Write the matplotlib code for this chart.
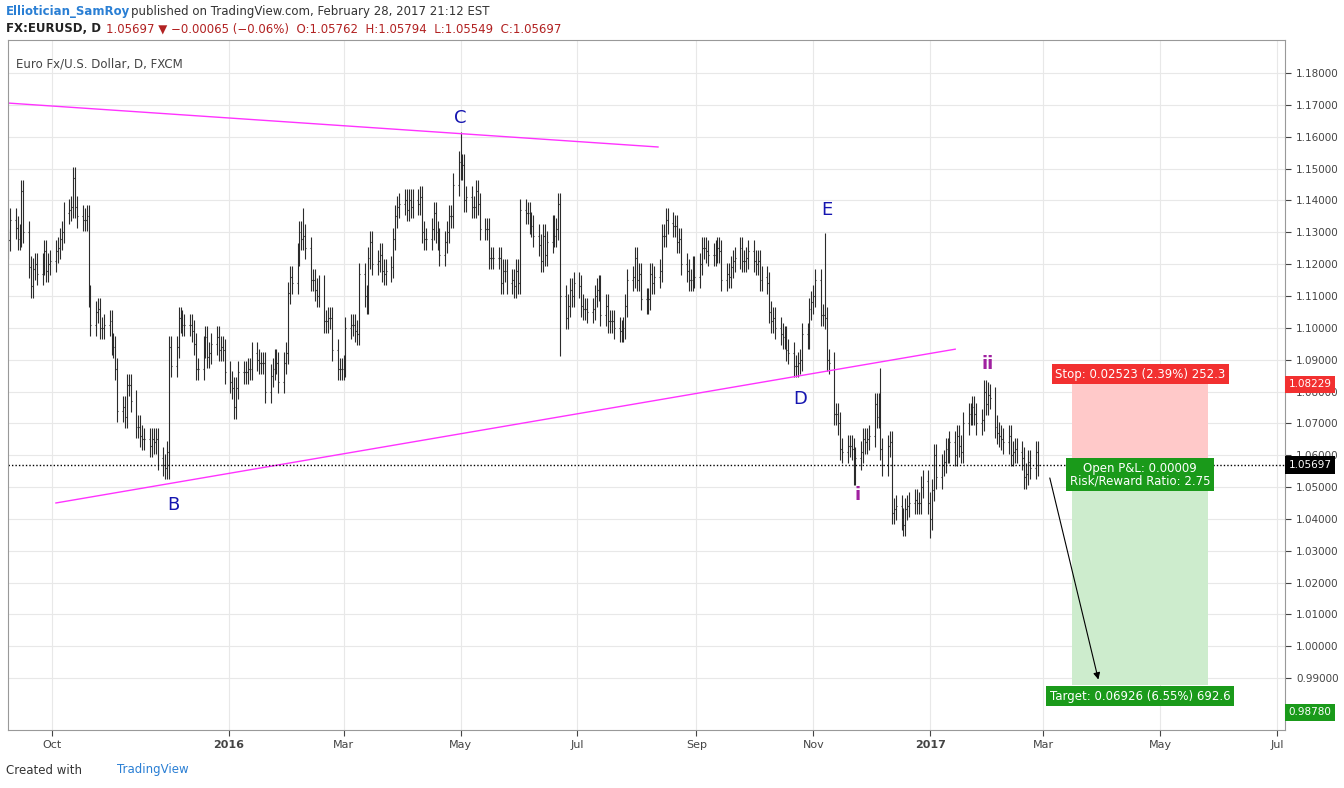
import numpy as np
import pandas as pd
import matplotlib
matplotlib.use("Agg")
import matplotlib.pyplot as plt
import matplotlib.dates as mdates

# daily closes, pips above 1.0000, one row per week starting Mon 2015-09-07
weeks = [
    [1200,1210,1250,1275,1340],[1315,1280,1290,1430,1300],[1190,1130,1185,1200,1170],
    [1200,1240,1180,1200,1210],[1240,1250,1280,1300,1360],[1370,1380,1470,1380,1350],
    [1340,1340,1350,1100,1010],[1050,1060,1000,1000,1010],[1020,950,940,870,740],
    [750,720,820,820,770],[690,690,660,650,650],[630,650,640,650,590],
    [570,560,610,940,880],[940,1030,1020,1010,1010],[1010,990,950,870,870],
    [940,970,910,920,950],[970,930,940,930,860],[830,810,750,810,860],
    [860,860,870,870,920],[900,890,890,890,800],[850,870,900,890,830],
    [890,920,1110,1160,1140],[1230,1300,1280,1290,1250],[1150,1150,1120,1100,1130],
    [1020,1020,1030,1030,930],[870,870,870,880,1000],[1010,1010,990,980,1170],
    [1100,1080,1220,1270,1200],[1210,1230,1180,1170,1180],[1190,1280,1350,1380,1390],
    [1400,1370,1400,1380,1400],[1390,1410,1300,1280,1280],[1310,1360,1300,1280,1230],
    [1270,1300,1350,1350,1450],[1520,1500,1510,1400,1410],[1380,1380,1430,1390,1310],
    [1310,1310,1220,1220,1220],[1220,1140,1180,1180,1140],[1150,1130,1180,1140,1370],
    [1360,1360,1330,1320,1290],[1260,1210,1290,1230,1270],[1320,1290,1310,1390,1100],
    [1030,1070,1120,1100,1140],[1130,1070,1060,1060,1050],[1060,1100,1120,1130,1040],
    [1070,1020,1020,1020,1000],[990,990,1000,1070,1150],[1160,1220,1150,1170,1090],
    [1080,1090,1170,1140,1160],[1180,1290,1290,1340,1330],[1320,1320,1270,1280,1200],
    [1180,1150,1150,1190,1160],[1200,1250,1250,1240,1230],[1230,1240,1250,1240,1150],
    [1170,1160,1190,1210,1220],[1250,1210,1210,1220,1240],[1210,1200,1210,1150,1160],
    [1140,1050,1020,1030,1000],[980,970,970,930,920],[880,880,890,900,980],
    [970,1060,1080,1100,1150],[1040,1040,1030,900,890],[730,730,700,620,610],
    [630,630,620,540,590],[610,650,640,650,660],[760,720,760,620,570],
    [630,640,420,430,440],[400,380,430,440,450],[460,450,450,500,520],
    [450,400,490,600,530],[570,580,620,610,640],[600,660,630,610,700],
    [730,730,750,730,700],[710,800,760,790,780],[690,670,660,650,640],
    [660,600,610,620,610],[590,530,540,580,560],[610,570],
]
# notable extremes
extreme_highs = {"2016-05-03": 1.1616, "2016-11-09": 1.1299, "2016-02-11": 1.1376,
                 "2016-12-08": 1.0874, "2017-02-02": 1.0829}
extreme_lows = {"2015-12-03": 1.0524, "2017-01-03": 1.0340, "2016-06-24": 1.0912}
last_close = 1.05697
stop_price = 1.08229
target_price = 0.98780
wick = 0.0035

closes = np.array([1 + v / 10000 for w in weeks for v in w])
dates = pd.bdate_range("2015-09-07", periods=len(closes))
opens = np.r_[closes[0] - 0.002, closes[:-1]]
highs = np.maximum(opens, closes) + wick
lows = np.minimum(opens, closes) - wick
for d, v in extreme_highs.items():
    highs[dates.get_loc(pd.Timestamp(d))] = v
for d, v in extreme_lows.items():
    lows[dates.get_loc(pd.Timestamp(d))] = v
closes[-1] = last_close

fig = plt.figure(figsize=(13.44, 7.88), dpi=100)
W, H = 1344, 788
ax = fig.add_axes([8 / W, (H - 730) / H, (1285 - 8) / W, (730 - 40) / H])

x = mdates.date2num(dates) - 2
bar_col = "#2b2b2b"
ax.vlines(x, lows, highs, color=bar_col, lw=0.8)
ax.hlines(opens, x - 0.45, x, color=bar_col, lw=0.8)
ax.hlines(closes, x, x + 0.45, color=bar_col, lw=0.8)

D = lambda s: mdates.date2num(pd.Timestamp(s))
ax.set_xlim(D("2015-09-08"), D("2017-07-05"))
ax.set_ylim(0.9737, 1.1904)

# trendlines
mag = "#ff33ff"
ax.plot([D("2015-09-08"), D("2016-08-12")], [1.1706, 1.1568], color=mag, lw=1)
ax.plot([D("2015-10-03"), D("2017-01-14")], [1.0450, 1.0933], color=mag, lw=1)

# wave labels
for s, d, p, c in [("C", "2016-05-01", 1.1660, "#1515b0"), ("B", "2015-12-03", 1.0445, "#1515b0"),
                   ("E", "2016-11-08", 1.1370, "#1515b0"), ("D", "2016-10-25", 1.0775, "#1515b0"),
                   ("i", "2016-11-24", 1.0475, "#a020a0"), ("ii", "2017-01-31", 1.0885, "#a020a0")]:
    ax.text(D(d), p, s, color=c, fontsize=13, ha="center", va="center",
            fontweight="bold" if c == "#a020a0" else "normal")

# current price line
ax.axhline(last_close, color="black", lw=1, ls=(0, (1, 1.5)))

# long/short position tool
x0, x1 = D("2017-03-16"), D("2017-05-26")
ax.fill_between([x0, x1], last_close, stop_price, color="#ffc9c9", lw=0)
ax.fill_between([x0, x1], target_price, last_close, color="#cdeccd", lw=0)
ax.annotate("", xy=(D("2017-03-30"), 0.9887), xytext=(D("2017-03-04"), 1.0537),
            arrowprops=dict(arrowstyle="-|>", color="black", lw=0.8))
xm = (x0 + x1) / 2
ax.text(xm, 1.0855, "Stop: 0.02523 (2.39%) 252.3", color="white", fontsize=8.5, ha="center",
        va="center", bbox=dict(boxstyle="square,pad=0.3", fc="#f23030", ec="none"))
ax.text(xm, 1.0540, "Open P&L: 0.00009\nRisk/Reward Ratio: 2.75", color="white", fontsize=8.5,
        ha="center", va="center", linespacing=0.95,
        bbox=dict(boxstyle="square,pad=0.3", fc="#1a9a1a", ec="none"))
ax.text(xm, 0.9843, "Target: 0.06926 (6.55%) 692.6", color="white", fontsize=8.5, ha="center",
        va="center", bbox=dict(boxstyle="square,pad=0.3", fc="#1a9a1a", ec="none"))

# axes styling
ax.yaxis.tick_right()
ax.set_yticks(np.arange(0.99, 1.1801, 0.01))
ax.yaxis.set_major_formatter(matplotlib.ticker.FormatStrFormatter("%.5f"))
ax.tick_params(axis="y", labelsize=7.5, colors="#444", length=4, pad=4)
ticks = ["2015-10-01", "2016-01-01", "2016-03-01", "2016-05-01", "2016-07-01", "2016-09-01",
         "2016-11-01", "2017-01-01", "2017-03-01", "2017-05-01", "2017-07-01"]
tlabels = ["Oct", "2016", "Mar", "May", "Jul", "Sep", "Nov", "2017", "Mar", "May", "Jul"]
ax.set_xticks([D(t) for t in ticks])
ax.set_xticklabels(tlabels)
ax.tick_params(axis="x", labelsize=8, colors="#444", length=4)
for lab in ax.get_xticklabels():
    if lab.get_text() in ("2016", "2017"):
        lab.set_fontweight("bold")
ax.grid(color="#e8e8e8", lw=0.8)
ax.set_axisbelow(True)
for sp in ax.spines.values():
    sp.set_color("#999")

# price badges on right axis (target badge sits just below its level, as in TradingView)
for p, yp, fc, tc in [(stop_price, stop_price, "#f23030", "white"),
                      (1.05706, 1.05706, "white", "#444"),
                      (last_close, last_close, "black", "white"),
                      (target_price, 0.9793, "#1a9a1a", "white")]:
    ax.text(1.003, yp, f"{p:.5f}", transform=ax.get_yaxis_transform(), fontsize=7.5, color=tc,
            va="center", ha="left", zorder=10, clip_on=False,
            bbox=dict(boxstyle="square,pad=0.35", fc=fc, ec="none"))

ax.text(0.006, 0.975, "Euro Fx/U.S. Dollar, D, FXCM", transform=ax.transAxes, fontsize=8.5,
        color="#444", va="top")

# header and footer
fig.text(6 / W, 1 - 11 / H, "Elliotician_SamRoy", color="#2a7fd4", fontsize=8.5,
         fontweight="bold", va="center")
fig.text(131 / W, 1 - 11 / H, "published on TradingView.com, February 28, 2017 21:12 EST",
         color="#333", fontsize=8.5, va="center")
fig.text(6 / W, 1 - 29 / H, "FX:EURUSD, D", color="#222", fontsize=8.5, fontweight="bold",
         va="center")
fig.text(106 / W, 1 - 29 / H, "1.05697 \u25bc \u22120.00065 (\u22120.06%)  O:1.05762  H:1.05794  "
         "L:1.05549  C:1.05697", color="#b22222", fontsize=8.5, va="center")
fig.text(6 / W, 1 - 770 / H, "Created with", color="#333", fontsize=8.5, va="center")
fig.text(117 / W, 1 - 770 / H, "TradingView", color="#2a7fd4", fontsize=8.5, va="center")

fig.savefig("out.png", dpi=100)
